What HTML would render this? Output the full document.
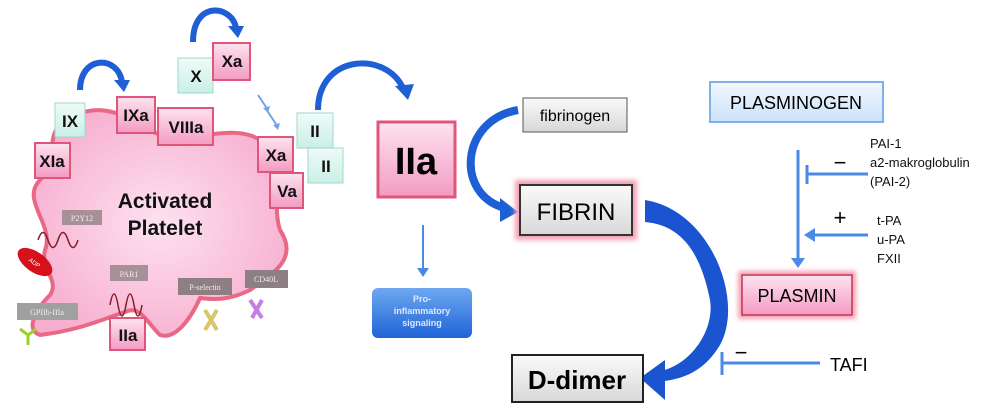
<!DOCTYPE html>
<html><head><meta charset="utf-8"><style>
body{margin:0;background:#fff}
svg{display:block;font-family:"Liberation Sans",sans-serif}
</style></head><body>
<svg width="1000" height="415" viewBox="0 0 1000 415" xmlns="http://www.w3.org/2000/svg">
<defs>
<radialGradient id="pk" cx="50%" cy="50%" r="60%"><stop offset="0" stop-color="#fde0ef"/><stop offset="1" stop-color="#f7a9cc"/></radialGradient>
<linearGradient id="pb" x1="0" y1="0" x2="0" y2="1"><stop offset="0" stop-color="#fde3ef"/><stop offset="1" stop-color="#f39bc2"/></linearGradient>
<linearGradient id="cb" x1="0" y1="0" x2="0" y2="1"><stop offset="0" stop-color="#f0fbf8"/><stop offset="1" stop-color="#c9efe6"/></linearGradient>
<linearGradient id="gb" x1="0" y1="0" x2="0" y2="1"><stop offset="0" stop-color="#fafafa"/><stop offset="1" stop-color="#d8d8d8"/></linearGradient>
<linearGradient id="bb" x1="0" y1="0" x2="0" y2="1"><stop offset="0" stop-color="#6fa8f0"/><stop offset="1" stop-color="#1f63d6"/></linearGradient>
<linearGradient id="lb" x1="0" y1="0" x2="0" y2="1"><stop offset="0" stop-color="#f2f8ff"/><stop offset="1" stop-color="#cde2fa"/></linearGradient>
<filter id="gl"><feGaussianBlur stdDeviation="2.5"/></filter>
</defs>
<!-- platelet blob -->
<path d="M60,125 C90,100 120,110 150,130 C180,150 230,120 260,140 C290,160 270,200 280,230 C300,260 270,275 250,290 C230,300 215,300 200,298 C190,320 175,340 160,335 C145,320 140,305 125,312 C100,320 80,330 40,335 C25,330 35,310 50,295 C60,280 40,270 45,250 C55,225 20,200 40,180 C60,160 45,140 60,125 Z" fill="url(#pk)" stroke="#e8607f" stroke-width="4" opacity=".95"/>
<text x="165" y="208" font-size="21" font-weight="bold" text-anchor="middle" fill="#111">Activated</text>
<text x="165" y="235" font-size="21" font-weight="bold" text-anchor="middle" fill="#111">Platelet</text>
<!-- receptor labels -->
<g font-family="Liberation Serif,serif" font-size="8" fill="#eee" text-anchor="middle">
<rect x="62" y="210" width="40" height="15" fill="#a89098"/><text x="82" y="221">P2Y12</text>
<rect x="110" y="265" width="38" height="16" fill="#a89098"/><text x="129" y="277">PAR1</text>
<rect x="178" y="278" width="54" height="17" fill="#8d7f84"/><text x="205" y="290">P-selectin</text>
<rect x="245" y="270" width="43" height="18" fill="#8d7f84"/><text x="266" y="282">CD40L</text>
<rect x="17" y="303" width="61" height="17" fill="#a0a0a0"/><text x="47" y="315">GPIIb-IIIa</text>
</g>
<path d="M38,240 q5,-15 10,0 q5,15 10,0 q5,-15 10,0 q5,15 10,0" fill="none" stroke="#8b1a2a" stroke-width="1.5"/>
<ellipse cx="35" cy="262" rx="20" ry="10" transform="rotate(35 35 262)" fill="#d6111b"/>
<text x="35" y="265" font-size="6" fill="#fff" text-anchor="middle" transform="rotate(35 35 262)">ADP</text>
<path d="M110,305 q4,-22 8,0 q4,22 8,0 q4,-22 8,0 q4,22 8,0" fill="none" stroke="#8b1a2a" stroke-width="1.5"/>
<path d="M205,310 l12,20 M217,310 l-12,20" stroke="#d9c56a" stroke-width="4"/>
<path d="M250,300 l12,18 M262,300 l-10,18" stroke="#c77ce6" stroke-width="4"/>
<path d="M28,345 l0,-10 l-8,-6 M28,335 l8,-6" stroke="#9ccf2a" stroke-width="3" fill="none"/>
<!-- factor boxes -->
<g font-weight="bold" font-size="17" text-anchor="middle" fill="#111">
<rect x="55" y="103" width="30" height="34" fill="url(#cb)" stroke="#9dd9cb"/><text x="70" y="127">IX</text>
<rect x="35" y="143" width="35" height="35" fill="url(#pb)" stroke="#e0557a" stroke-width="2"/><text x="52" y="167">XIa</text>
<rect x="117" y="97" width="38" height="36" fill="url(#pb)" stroke="#e0557a" stroke-width="2"/><text x="136" y="121">IXa</text>
<rect x="158" y="108" width="55" height="37" fill="url(#pb)" stroke="#e0557a" stroke-width="2"/><text x="186" y="133">VIIIa</text>
<rect x="178" y="58" width="35" height="35" fill="url(#cb)" stroke="#9dd9cb"/><text x="196" y="82">X</text>
<rect x="213" y="43" width="37" height="37" fill="url(#pb)" stroke="#e0557a" stroke-width="2"/><text x="232" y="67">Xa</text>
<rect x="297" y="113" width="36" height="35" fill="url(#cb)" stroke="#9dd9cb"/><text x="315" y="137">II</text>
<rect x="308" y="148" width="35" height="35" fill="url(#cb)" stroke="#9dd9cb"/><text x="326" y="172">II</text>
<rect x="258" y="137" width="35" height="35" fill="url(#pb)" stroke="#e0557a" stroke-width="2"/><text x="276" y="161">Xa</text>
<rect x="270" y="173" width="33" height="35" fill="url(#pb)" stroke="#e0557a" stroke-width="2"/><text x="287" y="197">Va</text>
<rect x="110" y="318" width="35" height="32" fill="url(#pb)" stroke="#e0557a" stroke-width="2"/><text x="128" y="341">IIa</text>
</g>
<!-- curved arrows -->
<g fill="none" stroke="#1e5fd6" stroke-linecap="butt">
<path d="M80,90 C80,55 118,55 122,82" stroke-width="6"/>
<path d="M193,42 C193,0 232,5 236,28" stroke-width="6"/>
<path d="M318,110 C318,55 385,50 403,88" stroke-width="6"/>
</g>
<g fill="#1e5fd6">
<polygon points="114,80 130,80 124,92"/>
<polygon points="228,26 244,26 238,38"/>
<polygon points="395,86 414,84 408,100"/>
</g>
<path d="M258,95 l8,12 M268,112 l8,12" stroke="#6fa3e6" stroke-width="2"/>
<polygon points="263,108 270,106 268,113" fill="#6fa3e6"/><polygon points="273,125 280,123 278,130" fill="#6fa3e6"/>
<!-- IIa big -->
<rect x="378" y="122" width="77" height="75" fill="url(#pb)" stroke="#e0557a" stroke-width="3"/>
<text x="416" y="174" font-size="38" font-weight="bold" text-anchor="middle">IIa</text>
<path d="M423,225 V270" stroke="#4a8ae6" stroke-width="2"/><polygon points="417,268 429,268 423,277" fill="#4a8ae6"/>
<rect x="372" y="288" width="100" height="50" rx="6" fill="url(#bb)"/>
<g font-size="9" font-weight="bold" fill="#dde8ff" text-anchor="middle"><text x="422" y="302">Pro-</text><text x="422" y="314">inflammatory</text><text x="422" y="326">signaling</text></g>
<!-- fibrinogen / fibrin -->
<rect x="523" y="98" width="104" height="34" fill="url(#gb)" stroke="#555"/>
<text x="575" y="121" font-size="16" text-anchor="middle">fibrinogen</text>
<path d="M518,110 C460,120 455,195 505,208" fill="none" stroke="#1e5fd6" stroke-width="8"/>
<polygon points="500,198 518,212 500,222" fill="#1e5fd6"/>
<rect x="515" y="180" width="122" height="60" fill="#f3a0b5" filter="url(#gl)"/>
<rect x="520" y="185" width="112" height="50" fill="url(#gb)" stroke="#333" stroke-width="2"/>
<text x="576" y="220" font-size="24" text-anchor="middle">FIBRIN</text>
<!-- big arc to D-dimer -->
<path d="M645,200 C710,210 745,300 720,345 C705,370 685,380 655,382 L655,372 C690,368 715,330 710,300 C700,250 680,225 645,222 Z" fill="#1b54d0"/>
<polygon points="640,378 665,360 665,400" fill="#1b54d0"/>
<rect x="512" y="355" width="131" height="47" fill="url(#gb)" stroke="#222" stroke-width="2"/>
<text x="577" y="389" font-size="26" font-weight="bold" text-anchor="middle">D-dimer</text>
<!-- right side -->
<rect x="710" y="82" width="173" height="40" fill="url(#lb)" stroke="#7fb2ea" stroke-width="2"/>
<text x="796" y="109" font-size="18" text-anchor="middle">PLASMINOGEN</text>
<path d="M798,150 V262" stroke="#4a8ae6" stroke-width="3"/><polygon points="791,258 805,258 798,268" fill="#4a8ae6"/>
<path d="M807,174 H868 M807,165 V184" stroke="#4a8ae6" stroke-width="3"/>
<path d="M812,235 H868" stroke="#4a8ae6" stroke-width="3"/><polygon points="804,235 815,228 815,242" fill="#4a8ae6"/>
<text x="840" y="170" font-size="22" text-anchor="middle">−</text>
<text x="840" y="225" font-size="22" text-anchor="middle">+</text>
<g font-size="13" fill="#111"><text x="870" y="148">PAI-1</text><text x="870" y="167">a2-makroglobulin</text><text x="870" y="186">(PAI-2)</text>
<text x="877" y="225">t-PA</text><text x="877" y="244">u-PA</text><text x="877" y="263">FXII</text></g>
<rect x="738" y="271" width="118" height="48" fill="#f3a0b5" filter="url(#gl)"/>
<rect x="742" y="275" width="110" height="40" fill="url(#pb)" stroke="#c8324f" stroke-width="1.5"/>
<text x="797" y="302" font-size="18" text-anchor="middle">PLASMIN</text>
<path d="M722,363 H820 M722,352 V375" stroke="#4a8ae6" stroke-width="3"/>
<text x="741" y="360" font-size="22" text-anchor="middle">−</text>
<text x="830" y="371" font-size="18">TAFI</text>
</svg>
</body></html>
